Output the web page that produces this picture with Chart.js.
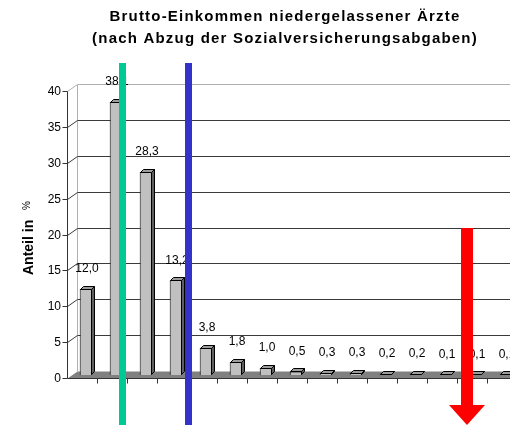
<!DOCTYPE html>
<html>
<head>
<meta charset="utf-8">
<script src="https://cdn.jsdelivr.net/npm/chart.js@4.4.1/dist/chart.umd.min.js"></script>
<style>
html, body { margin:0; padding:0; background:#fff; overflow:hidden; }
#wrap { width:540px; height:425px; }
</style>
</head>
<body>
<div id="wrap"><canvas id="chart" width="540" height="425"></canvas></div>
<script>
// Daten (Einkommensklassen ohne Beschriftung in der Vorlage)
var klassen = ['K1','K2','K3','K4','K5','K6','K7','K8','K9','K10','K11','K12','K13','K14','K15'];
var anteil = [12.0, 38.1, 28.3, 13.2, 3.8, 1.8, 1.0, 0.5, 0.3, 0.3, 0.2, 0.2, 0.1, 0.1, 0.1];
var yTicks = [0, 5, 10, 15, 20, 25, 30, 35, 40];
var titel = ['Brutto-Einkommen niedergelassener Ärzte', '(nach Abzug der Sozialversicherungsabgaben)'];

// Markierungen (in Kategorie-Einheiten)
var gruenBei = 1.23;
var blauBei = 3.43;
var pfeilBei = 12.7;
var pfeilVon = 20;

var FONT = '"Liberation Sans", Arial, sans-serif';
var FRONT = {dx: -4.5, dy: 3};
var BACK = {dx: 5.5, dy: -4};
var TIEFE = {dx: 3, dy: -3};

function linie(ctx, x1, y1, x2, y2) {
    ctx.beginPath();
    ctx.moveTo(x1, y1);
    ctx.lineTo(x2, y2);
    ctx.stroke();
}

var excel3d = {
    id: 'excel3d',
    beforeDatasetsDraw: function(chart) {
        var ctx = chart.ctx, a = chart.chartArea, y = chart.scales.y, x = chart.scales.x, W = chart.width;
        var xf = Math.round(a.left + FRONT.dx) + 0.5, xb = Math.round(a.left + BACK.dx) + 0.5;
        var yTop = y.getPixelForValue(yTicks[yTicks.length - 1]);
        var yBot = y.getPixelForValue(0);
        ctx.save();

        // Titel
        ctx.fillStyle = '#000';
        ctx.font = 'bold 15px ' + FONT;
        ctx.textAlign = 'center';
        ctx.textBaseline = 'alphabetic';
        ctx.letterSpacing = '1.2px';
        ctx.fillText(titel[0], 285, 21);
        ctx.fillText(titel[1], 285, 43);
        ctx.letterSpacing = '0px';

        // Achsentitel
        ctx.save();
        ctx.translate(33, 275);
        ctx.rotate(-Math.PI / 2);
        ctx.textAlign = 'left';
        ctx.font = 'bold 14px ' + FONT;
        ctx.fillText('Anteil in', 0, 0);
        var w = ctx.measureText('Anteil in ').width;
        ctx.font = '10px ' + FONT;
        ctx.fillText('%', w + 6, -3);
        ctx.restore();

        // Boden
        var yf0 = Math.round(yBot + FRONT.dy) + 0.5, yb0 = Math.round(yBot + BACK.dy) + 0.5;
        ctx.fillStyle = '#808080';
        ctx.beginPath();
        ctx.moveTo(xf, yf0);
        ctx.lineTo(xb, yb0);
        ctx.lineTo(W, yb0);
        ctx.lineTo(W, yf0);
        ctx.closePath();
        ctx.fill();

        // Wandrahmen
        ctx.lineWidth = 1;
        ctx.strokeStyle = '#b0b0b0';
        var ybT = Math.round(yTop + BACK.dy) + 0.5, yfT = Math.round(yTop + FRONT.dy) + 0.5;
        linie(ctx, xb, yb0, xb, ybT);
        linie(ctx, xf, yfT, xb, ybT);
        linie(ctx, xb, ybT, W, ybT);

        // Gitternetz
        ctx.strokeStyle = '#3a3a3a';
        yTicks.forEach(function(v) {
            if (v === 0 || v === yTicks[yTicks.length - 1]) return;
            var p = y.getPixelForValue(v);
            var yf = Math.round(p + FRONT.dy) + 0.5, yb = Math.round(p + BACK.dy) + 0.5;
            linie(ctx, xf, yf, xb, yb);
            linie(ctx, xb, yb, W, yb);
        });

        // vordere Achse, Striche, Beschriftung
        ctx.strokeStyle = '#333';
        linie(ctx, xf, yfT, xf, yf0);
        linie(ctx, xf, yf0, W, yf0);
        ctx.fillStyle = '#000';
        ctx.font = '12px ' + FONT;
        ctx.textAlign = 'right';
        ctx.textBaseline = 'middle';
        yTicks.forEach(function(v) {
            var yf = Math.round(y.getPixelForValue(v) + FRONT.dy) + 0.5;
            linie(ctx, xf - 5, yf, xf, yf);
            ctx.fillText(String(v), xf - 6.5, yf);
        });
        for (var i = 1; i <= klassen.length; i++) {
            var xt = Math.round(x.getPixelForValue(i - 0.5) + FRONT.dx) + 0.5;
            linie(ctx, xt, yf0, xt, yf0 + 5);
        }
        ctx.restore();
    },
    afterDatasetsDraw: function(chart) {
        var ctx = chart.ctx, y = chart.scales.y, x = chart.scales.x, H = chart.height;
        var meta = chart.getDatasetMeta(0);
        ctx.save();
        ctx.lineWidth = 1;
        ctx.strokeStyle = '#000';
        meta.data.forEach(function(bar, i) {
            var l = Math.round(bar.x - bar.width / 2) + 0.5, r = Math.round(bar.x + bar.width / 2) - 0.5;
            var t = Math.round(bar.y) + 0.5, b = Math.round(bar.base) - 0.5;
            // Seite
            ctx.fillStyle = '#5e5e5e';
            ctx.beginPath();
            ctx.moveTo(r, t);
            ctx.lineTo(r + TIEFE.dx, t + TIEFE.dy);
            ctx.lineTo(r + TIEFE.dx, b + TIEFE.dy);
            ctx.lineTo(r, b);
            ctx.closePath();
            ctx.fill();
            ctx.stroke();
            // Deckel
            ctx.fillStyle = '#9c9c9c';
            ctx.beginPath();
            ctx.moveTo(l, t);
            ctx.lineTo(l + TIEFE.dx, t + TIEFE.dy);
            ctx.lineTo(r + TIEFE.dx, t + TIEFE.dy);
            ctx.lineTo(r, t);
            ctx.closePath();
            ctx.fill();
            ctx.stroke();
            // Wert
            ctx.fillStyle = '#000';
            ctx.font = '12px ' + FONT;
            ctx.textAlign = 'center';
            ctx.textBaseline = 'middle';
            ctx.fillText(anteil[i].toFixed(1).replace('.', ','), bar.x + 1, bar.y - 20);
        });

        // Markierungen
        var top = 63;
        ctx.fillStyle = '#00c896';
        var gx = x.getPixelForValue(gruenBei);
        ctx.fillRect(Math.round(gx - 3.5), top, 7, H - top);
        ctx.fillStyle = '#3333cc';
        var bx = x.getPixelForValue(blauBei);
        ctx.fillRect(Math.round(bx - 3.5), top, 7, H - top);

        ctx.fillStyle = '#ff0000';
        var px = x.getPixelForValue(pfeilBei);
        var py = y.getPixelForValue(pfeilVon) - 4;
        ctx.fillRect(Math.round(px - 6), Math.round(py), 12, 405 - Math.round(py));
        ctx.beginPath();
        ctx.moveTo(px - 18, 405);
        ctx.lineTo(px + 18, 405);
        ctx.lineTo(px, 425);
        ctx.closePath();
        ctx.fill();
        ctx.restore();
    }
};

new Chart(document.getElementById('chart'), {
    type: 'bar',
    data: {
        labels: klassen,
        datasets: [{
            data: anteil,
            backgroundColor: '#c0c0c0',
            borderColor: '#000',
            borderWidth: 1,
            barPercentage: 0.42,
            categoryPercentage: 1
        }]
    },
    options: {
        responsive: false,
        animation: false,
        devicePixelRatio: 1,
        layout: { padding: { left: 71, right: 19, top: 88, bottom: 50 } },
        scales: {
            x: { display: false },
            y: { display: false, min: 0, max: 40 }
        },
        plugins: {
            legend: { display: false },
            tooltip: { enabled: false },
            title: { display: false }
        }
    },
    plugins: [excel3d]
});
</script>
</body>
</html>
